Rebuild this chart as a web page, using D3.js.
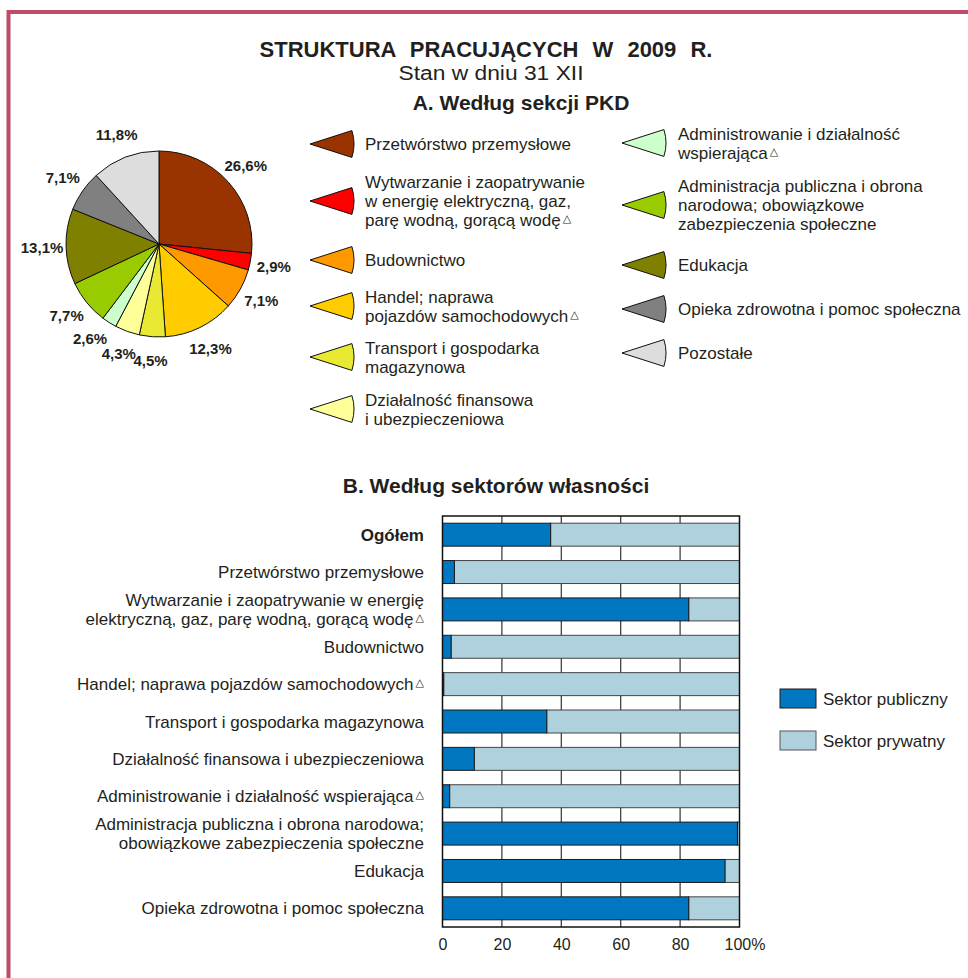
<!DOCTYPE html>
<html>
<head>
<meta charset="utf-8">
<script src="https://cdn.jsdelivr.net/npm/d3@7"></script>
<style>
  body { margin: 0; background: #fff; }
  text { font-family: "Liberation Sans", Arial, sans-serif; fill: #231f20; }
</style>
</head>
<body>
<script>
// DATA - part A (pie, by PKD section)
var sections = [
  "Przetwórstwo przemysłowe",
  "Wytwarzanie i zaopatrywanie",
  "Budownictwo",
  "Handel",
  "Transport i gospodarka magazynowa",
  "Działalność finansowa i ubezpieczeniowa",
  "Administrowanie i działalność wspierająca",
  "Administracja publiczna i obrona narodowa",
  "Edukacja",
  "Opieka zdrowotna i pomoc społeczna",
  "Pozostałe"
];
var sectionShares = [26.6, 2.9, 7.1, 12.3, 4.5, 4.3, 2.6, 7.7, 13.1, 7.1, 11.8];
var sectionColors = ["#993300", "#ff0000", "#ff9900", "#ffcc00", "#e9e933", "#ffff99",
                     "#ccffcc", "#99cc00", "#808000", "#808080", "#dddddd"];
var sectionLegendLines = [
  ["Przetwórstwo przemysłowe"],
  ["Wytwarzanie i zaopatrywanie", "w energię elektryczną, gaz,", "parę wodną, gorącą wodę△"],
  ["Budownictwo"],
  ["Handel; naprawa", "pojazdów samochodowych△"],
  ["Transport i gospodarka", "magazynowa"],
  ["Działalność finansowa", "i ubezpieczeniowa"],
  ["Administrowanie i działalność", "wspierająca△"],
  ["Administracja publiczna i obrona", "narodowa; obowiązkowe", "zabezpieczenia społeczne"],
  ["Edukacja"],
  ["Opieka zdrowotna i pomoc społeczna"],
  ["Pozostałe"]
];

// DATA - part B (bars, by ownership sector)
var sectorRows = ["Ogółem", "Przetwórstwo", "Wytwarzanie", "Budownictwo", "Handel", "Transport",
                  "Finanse", "Administrowanie", "Administracja", "Edukacja", "Opieka"];
var rowLabelLines = [
  ["Ogółem"],
  ["Przetwórstwo przemysłowe"],
  ["Wytwarzanie i zaopatrywanie w energię", "elektryczną, gaz, parę wodną, gorącą wodę△"],
  ["Budownictwo"],
  ["Handel; naprawa pojazdów samochodowych△"],
  ["Transport i gospodarka magazynowa"],
  ["Działalność finansowa i ubezpieczeniowa"],
  ["Administrowanie i działalność wspierająca△"],
  ["Administracja publiczna i obrona narodowa;", "obowiązkowe zabezpieczenia społeczne"],
  ["Edukacja"],
  ["Opieka zdrowotna i pomoc społeczna"]
];
var publicShares  = [36.4, 4.0, 82.9, 2.9, 0.4, 35.1, 10.7, 2.4, 99.3, 95.1, 82.9];
var privateShares = [63.6, 96.0, 17.1, 97.1, 99.6, 64.9, 89.3, 97.6, 0.7, 4.9, 17.1];
var sectorNames = ["Sektor publiczny", "Sektor prywatny"];
var sectorColors = ["#0077c0", "#aed1dd"];
var xTicks = [0, 20, 40, 60, 80, 100];

// LAYOUT
var width = 968, height = 978;
var lineH = 19;

var svg = d3.select("body").append("svg")
  .attr("width", width)
  .attr("height", height);

svg.append("rect").attr("width", width).attr("height", height).attr("fill", "#fff");

// frame (left + top only)
svg.append("path")
  .attr("d", "M8.5," + height + "V12H" + width)
  .attr("fill", "none")
  .attr("stroke", "#c04d68")
  .attr("stroke-width", 4);

// one line of text, a trailing triangle becomes a small raised mark
function textLine(g, x, y, str, anchor, size, weight) {
  var t = g.append("text")
    .attr("x", x).attr("y", y)
    .attr("text-anchor", anchor)
    .attr("font-size", size)
    .attr("font-weight", weight || "normal");
  if (str.slice(-1) === "△") {
    t.append("tspan").text(str.slice(0, -1));
    t.append("tspan")
      .attr("dx", 2).attr("dy", -4)
      .attr("font-size", 11)
      .style("font-family", "DejaVu Sans")
      .text("△");
  } else {
    t.text(str);
  }
  return t;
}

// titles
svg.append("text").attr("x", 486).attr("y", 57).attr("text-anchor", "middle")
  .attr("font-size", 22).attr("font-weight", "bold")
  .attr("word-spacing", 8)
  .text("STRUKTURA PRACUJĄCYCH W 2009 R.");
svg.append("text").attr("x", 491).attr("y", 80).attr("text-anchor", "middle")
  .attr("font-size", 20)
  .attr("textLength", 185).attr("lengthAdjust", "spacingAndGlyphs")
  .text("Stan w dniu 31 XII");
svg.append("text").attr("x", 521).attr("y", 110).attr("text-anchor", "middle")
  .attr("font-size", 21).attr("font-weight", "bold")
  .text("A. Według sekcji PKD");

// PIE
var pieG = svg.append("g").attr("transform", "translate(159,244)");
var pie = d3.pie().sort(null).value(function(d) { return d; });
var arc = d3.arc().innerRadius(0).outerRadius(93);
var labelR = 117;
var arcs = pie(sectionShares);

pieG.selectAll("path")
  .data(arcs)
  .enter()
  .append("path")
  .attr("d", arc)
  .attr("fill", function(d, i) { return sectionColors[i]; })
  .attr("stroke", "#111")
  .attr("stroke-width", 1);

// label angles: mid angle, pushed forward so neighbours keep a minimum gap
var minGap = 16 * Math.PI / 180;
var labelAngles = [];
arcs.forEach(function(d, i) {
  var a = (d.startAngle + d.endAngle) / 2;
  if (i > 0 && a - labelAngles[i - 1] < minGap) a = labelAngles[i - 1] + minGap;
  labelAngles.push(a);
});

pieG.selectAll("text")
  .data(arcs)
  .enter()
  .append("text")
  .attr("x", function(d, i) { return labelR * Math.sin(labelAngles[i]); })
  .attr("y", function(d, i) { return -labelR * Math.cos(labelAngles[i]); })
  .attr("text-anchor", "middle")
  .attr("dy", "0.35em")
  .attr("font-size", 15)
  .attr("font-weight", "bold")
  .text(function(d) { return d.data.toFixed(1).replace(".", ",") + "%"; });

// PIE LEGEND
var wedge = d3.arc().innerRadius(0).outerRadius(44)
  .startAngle(Math.PI / 2 - 0.31).endAngle(Math.PI / 2 + 0.31);
var legendCols = [
  { tip: 310, tx: 365, ys: [144, 201, 260, 306, 357, 409], from: 0 },
  { tip: 622, tx: 678, ys: [143, 205, 265, 309, 353], from: 6 }
];
legendCols.forEach(function(col) {
  col.ys.forEach(function(cy, k) {
    var i = col.from + k;
    svg.append("path")
      .attr("d", wedge())
      .attr("transform", "translate(" + col.tip + "," + cy + ")")
      .attr("fill", sectionColors[i])
      .attr("stroke", "#111")
      .attr("stroke-width", 1);
    var lines = sectionLegendLines[i];
    lines.forEach(function(ln, j) {
      textLine(svg, col.tx, cy + (j - (lines.length - 1) / 2) * lineH + 6, ln, "start", 17);
    });
  });
});

// BAR CHART
svg.append("text").attr("x", 496).attr("y", 493).attr("text-anchor", "middle")
  .attr("font-size", 21).attr("font-weight", "bold")
  .text("B. Według sektorów własności");

var x = d3.scaleLinear().domain([0, 100]).range([442.5, 739.5]);
var y = d3.scaleBand().domain(sectorRows).range([516, 927])
  .paddingInner(0.385).paddingOuter(0.1925);

var barG = svg.append("g");

// gridlines
barG.selectAll("line.grid")
  .data(xTicks.slice(1, -1))
  .enter()
  .append("line")
  .attr("class", "grid")
  .attr("x1", function(d) { return x(d); })
  .attr("x2", function(d) { return x(d); })
  .attr("y1", 516).attr("y2", 927)
  .attr("stroke", "#333")
  .attr("stroke-width", 1.2);

// private part
barG.selectAll("rect.priv")
  .data(sectorRows)
  .enter()
  .append("rect")
  .attr("class", "priv")
  .attr("x", function(d, i) { return x(publicShares[i]); })
  .attr("y", function(d) { return y(d); })
  .attr("width", function(d, i) { return x(publicShares[i] + privateShares[i]) - x(publicShares[i]); })
  .attr("height", y.bandwidth())
  .attr("fill", sectorColors[1])
  .attr("stroke", "#444")
  .attr("stroke-width", 1);

// public part
barG.selectAll("rect.pub")
  .data(sectorRows)
  .enter()
  .append("rect")
  .attr("class", "pub")
  .attr("x", x(0))
  .attr("y", function(d) { return y(d); })
  .attr("width", function(d, i) { return x(publicShares[i]) - x(0); })
  .attr("height", y.bandwidth())
  .attr("fill", sectorColors[0])
  .attr("stroke", "#1a1a1a")
  .attr("stroke-width", 1);

// plot frame
barG.append("rect")
  .attr("x", x(0)).attr("y", 516)
  .attr("width", x(100) - x(0)).attr("height", 411)
  .attr("fill", "none")
  .attr("stroke", "#111")
  .attr("stroke-width", 1.5);

// row labels
sectorRows.forEach(function(r, i) {
  var cy = y(r) + y.bandwidth() / 2;
  var lines = rowLabelLines[i];
  lines.forEach(function(ln, j) {
    textLine(svg, 424, cy + (j - (lines.length - 1) / 2) * lineH + 6, ln, "end", 17,
             i === 0 ? "bold" : "normal");
  });
});

// x axis
var xAxis = svg.append("g")
  .attr("transform", "translate(0,927)")
  .call(d3.axisBottom(x).tickValues(xTicks).tickSize(0).tickPadding(12)
    .tickFormat(function(d) { return d === 100 ? "100%" : d; }));
xAxis.select(".domain").remove();
xAxis.selectAll("text")
  .attr("font-size", 16)
  .style("font-family", "'Liberation Sans', Arial, sans-serif")
  .attr("fill", "#231f20")
  .attr("dx", function(d) { return d === 100 ? 5 : 0; });

// bar legend
sectorNames.forEach(function(name, i) {
  var ly = 689 + i * 42;
  svg.append("rect")
    .attr("x", 780).attr("y", ly)
    .attr("width", 36).attr("height", 19)
    .attr("fill", sectorColors[i])
    .attr("stroke", i === 0 ? "#1a1a1a" : "#555")
    .attr("stroke-width", 1);
  textLine(svg, 823, ly + 9.5 + 6, name, "start", 17);
});
</script>
</body>
</html>
